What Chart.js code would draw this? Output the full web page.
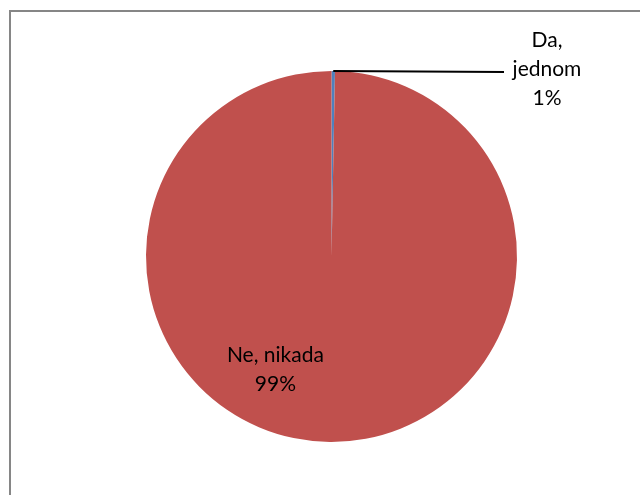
<!DOCTYPE html>
<html>
<head>
<meta charset="utf-8">
<script src="https://cdn.jsdelivr.net/npm/chart.js@4"></script>
<style>
  html, body { margin: 0; padding: 0; background: #fff; }
  #wrap { position: relative; width: 640px; height: 495px; overflow: hidden; }
  #frame { position: absolute; left: 9px; top: 10px; width: 700px; height: 600px; border: 2px solid #868686; box-sizing: border-box; }
  #myChart { position: absolute; left: 0; top: 0; }
</style>
</head>
<body>
<div id="wrap">
  <div id="frame"></div>
  <canvas id="myChart" width="640" height="495"></canvas>
</div>
<script>
const categories = ["Da, jednom", "Ne, nikada"];
const values = [0.3, 99.7];
const percentLabels = ["1%", "99%"];
const colors = ["#4F81BD", "#C0504D"];

const labelFont = '21px Lato, "Open Sans", sans-serif';

// draws the excel style data labels
const pieLabels = {
  id: 'pieLabels',
  afterDraw(chart) {
    const c = chart.ctx;
    const arcs = chart.getDatasetMeta(0).data;
    c.save();
    c.font = labelFont;
    c.fillStyle = '#000';
    c.textAlign = 'center';
    c.textBaseline = 'middle';

    // small slice: leader line out to the right
    const a = arcs[0];
    const ang = a.startAngle + (a.endAngle - a.startAngle) / 2;
    const px = a.x + Math.cos(ang) * a.outerRadius;
    const py = a.y + Math.sin(ang) * a.outerRadius;
    c.strokeStyle = '#000';
    c.lineWidth = 2;
    c.beginPath();
    c.moveTo(px, py);
    c.lineTo(504, 72);
    c.stroke();
    const parts0 = categories[0].split(' ');
    c.fillText(parts0[0], 547, 40);
    c.fillText(parts0[1], 547, 69);
    c.fillText(percentLabels[0], 547, 98);

    // big slice: label inside
    const b = arcs[1];
    const ang2 = 116.4 * Math.PI / 180;
    const lx = b.x + Math.cos(ang2) * b.outerRadius * 0.68;
    const ly = b.y + Math.sin(ang2) * b.outerRadius * 0.68;
    c.fillText(categories[1], lx, ly - 14);
    c.fillText(percentLabels[1], lx, ly + 15);
    c.restore();
  }
};

const ctx = document.getElementById('myChart');

new Chart(ctx, {
  type: 'pie',
  data: {
    labels: categories,
    datasets: [{
      data: values,
      backgroundColor: colors,
      borderWidth: 0
    }]
  },
  options: {
    responsive: false,
    animation: false,
    layout: {
      padding: { left: 146, right: 123, top: 71, bottom: 53 }
    },
    plugins: {
      legend: { display: false },
      tooltip: { enabled: false }
    }
  },
  plugins: [pieLabels]
});
</script>
</body>
</html>
